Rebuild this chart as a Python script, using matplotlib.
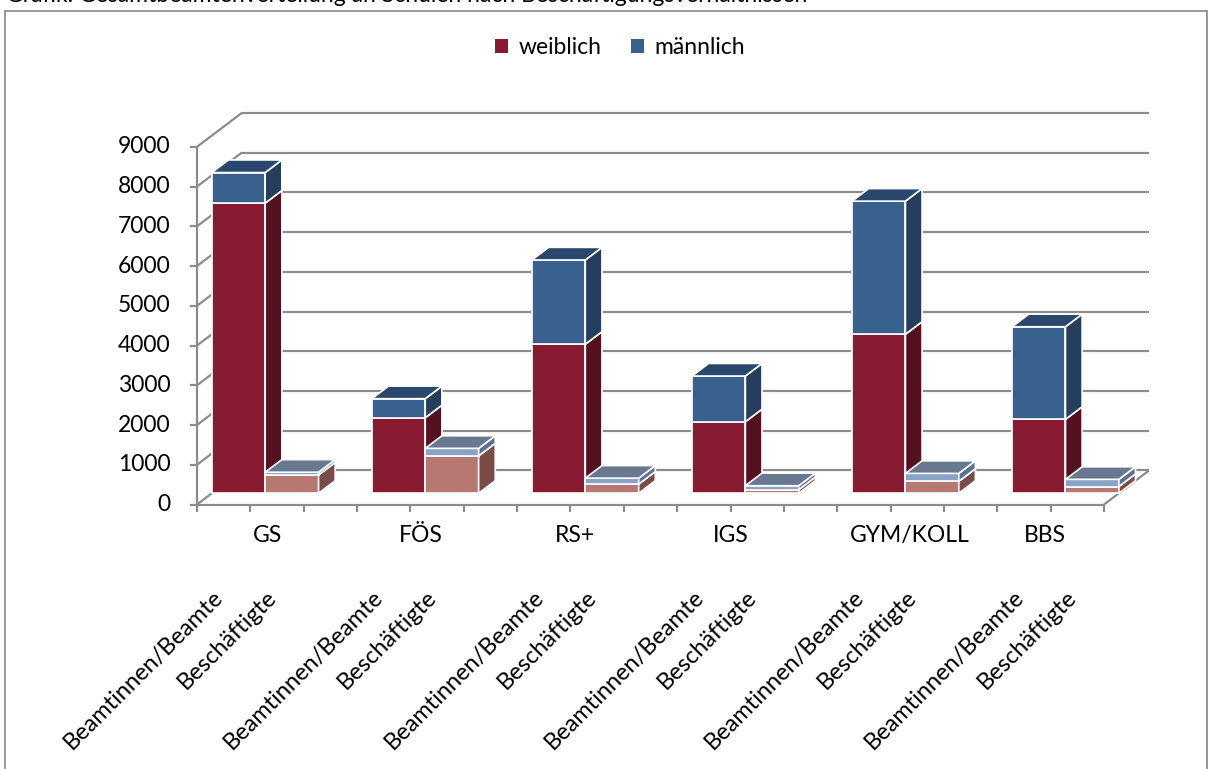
import matplotlib
matplotlib.use("Agg")
import matplotlib.pyplot as plt
from matplotlib.patches import Polygon, Rectangle, Patch

plt.rcParams["font.family"] = ["Lato", "DejaVu Sans"]

GROUPS = ["GS", "FÖS", "RS+", "IGS", "GYM/KOLL", "BBS"]
SUBCATS = ["Beamtinnen/Beamte", "Beschäftigte"]
SERIES = ["weiblich", "männlich"]

beamte_w = [7300, 1900, 3750, 1800, 4000, 1860]
beamte_m = [770, 480, 2120, 1150, 3350, 2330]
besch_w = [460, 940, 230, 90, 300, 170]
besch_m = [70, 190, 150, 100, 200, 180]

Y_TICKS = list(range(0, 9001, 1000))

# where excel put the group captions (in slot units)
GROUP_LABEL_X = [1.33, 4.2, 7.08, 10.0, 13.35, 15.9]

# colours: (front, side, top)
RED = ("#881b32", "#561120", "#6b1527")
BLUE = ("#38618d", "#253e5e", "#2a486e")
SALMON = ("#b67870", "#7b4b48", "#8f5a55")
LIGHTBLUE = ("#88a3c5", "#5a7292", "#68798f")
GRID = "#8c8c8c"

N_SLOTS = 17
DX, DY = 0.843, 856.0      # full depth of the floor/walls in data units
F0, F1 = 0.33, 0.70        # front / back of the bars as fraction of depth
BAR_W = 1.0

fig = plt.figure(figsize=(12.12, 7.69), dpi=100)
ax = fig.add_axes([197 / 1212, 1 - 504.5 / 769, (1104 - 197) / 1212, (504.5 - 146.8) / 769])
ax.set_xlim(0, N_SLOTS)
ax.set_ylim(0, 9000)
ax.axis("off")


def line(xs, ys, **kw):
    ax.plot(xs, ys, color=GRID, lw=1.6, clip_on=False, solid_capstyle="butt", **kw)


# walls, floor and axis
for v in Y_TICKS:
    line([DX, N_SLOTS + DX], [v + DY, v + DY], zorder=1)
    line([0, DX], [v, v + DY], zorder=1)
    line([-0.13, 0], [v, v], zorder=1)
line([0, 0], [0, 9000], zorder=1)
line([0, N_SLOTS], [0, 0], zorder=1)
line([N_SLOTS, N_SLOTS + DX], [0, DY], zorder=1)
for i in range(N_SLOTS + 1):
    line([i, i], [0, -200], zorder=1)

for v in Y_TICKS:
    ax.text(-0.5, v, str(v), ha="right", va="center", fontsize=16.5, clip_on=False)


def draw_segment(x0, b, t, colors, z, with_top):
    front, side, top = colors
    ax.bar(x0 + F0 * DX, t - b, bottom=b + F0 * DY, width=BAR_W, align="edge",
           color=front, edgecolor="white", linewidth=1.2, zorder=z, clip_on=False)
    xr = x0 + BAR_W
    ax.add_patch(Polygon([(xr + F0 * DX, b + F0 * DY), (xr + F1 * DX, b + F1 * DY),
                          (xr + F1 * DX, t + F1 * DY), (xr + F0 * DX, t + F0 * DY)],
                         closed=True, facecolor=side, edgecolor="white", lw=1.2,
                         zorder=z, clip_on=False))
    if with_top:
        ax.add_patch(Polygon([(x0 + F0 * DX, t + F0 * DY), (xr + F0 * DX, t + F0 * DY),
                              (xr + F1 * DX, t + F1 * DY), (x0 + F1 * DX, t + F1 * DY)],
                             closed=True, facecolor=top, edgecolor="white", lw=1.2,
                             zorder=z, clip_on=False))


z = 3
for g in range(len(GROUPS)):
    stacks = [
        (3 * g, beamte_w[g], beamte_m[g], RED, BLUE),
        (3 * g + 1, besch_w[g], besch_m[g], SALMON, LIGHTBLUE),
    ]
    for slot, w, m, c_w, c_m in stacks:
        draw_segment(slot, 0, w, c_w, z, False)
        draw_segment(slot, w, w + m, c_m, z + 0.5, True)
        z += 1
        ax.text(slot + 0.57, -2050, SUBCATS[slot % 3], rotation=45, ha="right", va="top",
                fontsize=17, clip_on=False)
    ax.text(GROUP_LABEL_X[g], -770, GROUPS[g], ha="center", va="center", fontsize=16.5,
            clip_on=False)

handles = [Patch(facecolor=RED[0]), Patch(facecolor=BLUE[0])]
fig.legend(handles, SERIES, loc="center", bbox_to_anchor=(620 / 1212, 1 - 48 / 769), ncol=2,
           frameon=False, fontsize=16.5, handlelength=0.55, handleheight=0.55,
           handletextpad=0.45, columnspacing=1.3)

# outer chart frame, its bottom runs past the page
fig.patches.append(Rectangle((5 / 1212, -0.05), 1202 / 1212, 1.05 - 11 / 769,
                             transform=fig.transFigure, fill=False, edgecolor="#868686", lw=1.2))
fig.text(6 / 1212, 1 - 2 / 769,
         "Grafik: Gesamtbeamtenverteilung an Schulen nach Beschäftigungsverhältnissen",
         ha="left", va="baseline", fontsize=16.5)

fig.savefig("out.png", dpi=100)
